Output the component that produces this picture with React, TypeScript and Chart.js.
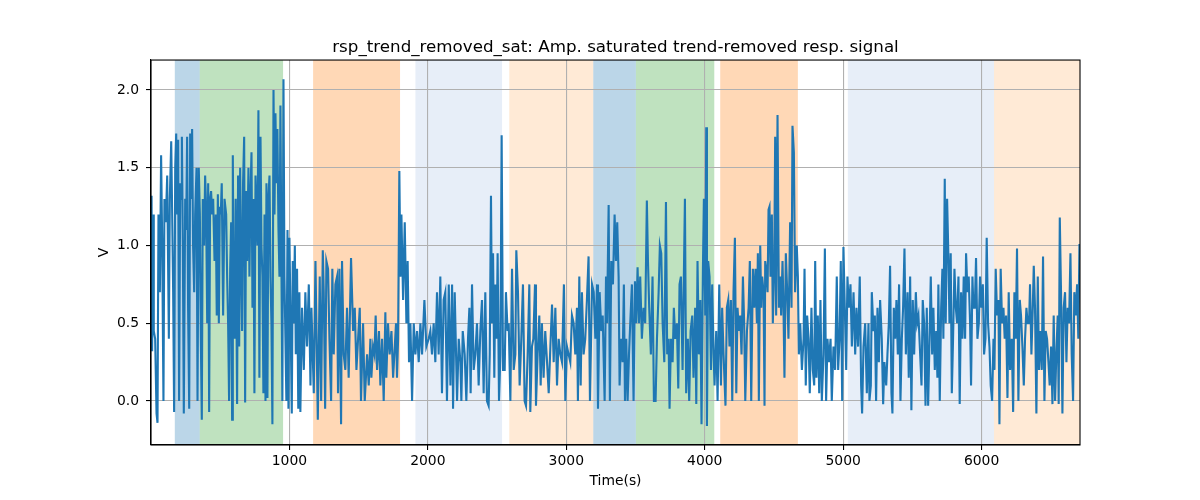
import { useEffect, useRef } from 'react';
import Chart from 'chart.js/auto';

// time (s), amplitude (V), in segments
const traceA: [number, number][] = [
  [0, 0.35], [4, 1.32], [8, 0.32], [16, 1.2], [20, 0.45], [30, 0.4], [40, -0.08], [47, -0.14], [54, 1.2], [64, 0.7],
  [73, 1.58], [81, 1.0], [90, 0.0], [97, 1.3], [107, 1.15], [117, 1.45], [129, 0.4], [136, 1.3], [146, 1.67], [153, 1.2],
  [160, 0.7], [167, -0.07], [175, 1.5], [182, 1.72], [189, 1.2], [196, 1.68], [203, 0.0], [211, 1.4], [218, 1.3], [223, 1.7],
  [230, 1.0], [237, -0.08], [247, 1.3], [254, 1.1], [261, 1.7], [268, 0.6], [276, -0.05], [283, 1.72], [290, 1.3], [297, 1.75],
  [304, 1.0], [312, 0.7], [319, 1.2], [329, 1.5], [336, 0.0], [345, 1.5], [353, 1.2], [360, 0.4], [367, -0.12], [374, 1.3],
  [384, 1.0], [391, 1.45], [398, 1.25], [406, 0.5], [413, 1.4], [420, -0.07], [427, 1.3], [434, 1.35], [442, 1.2], [449, 1.3],
  [459, 0.9], [468, 1.2], [475, 0.55], [483, 1.33], [490, 0.5], [497, 1.25], [504, 1.2], [511, 1.4], [521, 0.55], [531, 1.3],
  [543, 1.2], [550, 0.8], [557, 0.5], [564, 0.0], [572, 0.85], [579, 1.15], [586, -0.12], [591, 1.58], [598, 0.5], [605, 0.4],
  [612, 1.3], [622, -0.02], [629, 1.45], [637, 0.35], [644, 1.5], [651, 0.9], [658, 0.45], [665, 1.4], [673, 1.7], [680, -0.01],
  [687, 1.35], [694, 0.9], [704, 1.5], [711, 0.8], [718, 1.3], [726, 1.6], [733, 0.6], [740, 1.3], [747, 0.05], [755, 1.45],
  [762, 1.2], [769, 1.0], [776, 1.87], [783, 0.15], [791, 1.7], [798, 1.0], [805, 0.8], [812, 0.05], [820, 1.2], [827, 0.0],
  [834, 1.4], [841, 0.02], [848, 1.3], [856, 1.45], [863, 0.8], [870, 0.5], [877, -0.15], [885, 2.0], [892, 1.2], [899, 1.85],
  [906, 1.4], [913, 1.75], [921, 1.1], [928, 0.8], [935, 1.9], [942, 0.9], [949, 0.0], [957, 2.07], [964, 0.8], [971, 0.4],
  [978, 0.0], [986, 1.1], [993, -0.05], [1000, 1.05], [1010, 0.4], [1017, -0.08], [1024, 0.9], [1031, 0.5], [1039, 1.0], [1046, 0.3],
  [1055, 0.85], [1064, -0.05], [1072, 0.7], [1079, -0.07],
];

const traceB: [number, number][] = [
  [1091, 0.6], [1104, 0.2], [1115, 0.7], [1127, 0.35], [1140, 0.75], [1152, 0.1], [1159, 0.6], [1176, 0.05], [1188, 0.9], [1205, -0.12],
  [1219, 0.8], [1229, 0.0], [1241, 0.97], [1248, 0.7], [1258, -0.05], [1267, 0.9], [1279, 0.85], [1289, 0.4], [1301, 0.0], [1310, 0.85],
  [1320, 0.3], [1332, 0.75], [1344, 0.8], [1351, 0.05], [1361, 0.85], [1373, -0.15], [1380, 0.9], [1392, 0.3], [1404, 0.2], [1416, 0.6],
  [1428, 0.15], [1445, 0.92], [1460, 0.45], [1472, 0.6], [1484, 0.2], [1496, 0.4], [1508, 0.6], [1517, 0.0], [1532, 0.5], [1544, 0.0],
  [1561, 0.3], [1573, 0.1], [1585, 0.4], [1592, 0.15], [1604, 0.35], [1614, 0.3], [1623, 0.55], [1633, 0.2], [1647, 0.45], [1657, 0.1],
  [1669, 0.4], [1681, 0.0], [1693, 0.57], [1700, 0.15], [1712, 0.5], [1724, 0.3], [1737, 0.45], [1749, 0.15], [1761, 0.35], [1770, 0.5],
  [1777, 0.15], [1785, 0.4], [1794, 1.48], [1802, 0.8], [1809, 1.2], [1821, 0.65], [1833, 1.15], [1845, 0.5], [1854, 0.9], [1864, 0.25],
  [1874, 0.5], [1886, 0.0], [1898, 0.5], [1910, 0.3], [1922, 0.45], [1934, 0.25], [1946, 0.5], [1958, 0.3], [1975, 0.65], [1989, 0.35],
  [2006, 0.4], [2018, 0.45], [2030, 0.3], [2042, 0.5], [2054, 0.25], [2066, 0.7], [2078, 0.3], [2090, 0.8], [2102, 0.05], [2114, 0.65],
  [2126, 0.7], [2138, 0.0], [2151, 0.75], [2163, 0.1], [2175, 0.75], [2182, -0.05], [2194, 0.7],
];

const traceC: [number, number][] = [
  [2211, 0.0], [2223, 0.4], [2235, 0.25], [2242, 0.0], [2252, 0.45], [2266, 0.3], [2278, 0.0], [2290, 0.4], [2300, 0.6], [2309, 0.05],
  [2319, 0.75], [2331, 0.2], [2343, 0.3], [2355, 0.5], [2367, 0.1], [2379, 0.45], [2391, 0.65], [2403, 0.05], [2415, 0.7], [2427, 0.0],
  [2439, -0.03], [2447, 0.3], [2456, 1.32], [2463, 0.5], [2471, 0.95], [2480, 0.15], [2487, 0.75], [2497, 0.4], [2504, 0.95], [2514, 0.0],
  [2524, 0.3], [2533, 1.71], [2543, 0.2], [2555, 0.2], [2564, 0.7], [2576, 0.45], [2584, 0.5], [2596, 0.0], [2608, 0.85], [2620, 0.2],
  [2632, 0.3], [2639, 0.97], [2651, 0.7], [2663, 0.1], [2675, 0.4], [2687, 0.75], [2699, 0.0], [2709, -0.03], [2721, 0.3], [2733, 0.75],
  [2740, -0.07], [2752, 0.35], [2762, 0.4], [2774, 0.75], [2781, -0.03], [2793, 0.3], [2805, 0.55], [2815, 0.1], [2824, 0.5], [2836, 0.15],
  [2848, 0.45], [2861, 0.25], [2873, 0.05], [2885, 0.35], [2897, 0.62], [2909, 0.25], [2921, 0.6], [2933, 0.1], [2945, 0.4], [2957, 0.3],
  [2969, 0.25], [2983, 0.75], [2993, 0.0], [3005, 0.35], [3017, 0.3], [3029, 0.25], [3041, 0.55], [3053, 0.5], [3065, 0.3], [3077, 0.6],
  [3084, 0.0], [3094, 0.8], [3104, 0.1], [3113, 0.7], [3125, 0.3], [3137, 0.4], [3149, 0.65], [3161, 0.93], [3171, 0.0], [3186, 0.75],
  [3198, 0.7], [3210, 0.4], [3222, 0.75], [3229, -0.05], [3241, 0.7], [3253, 0.45], [3263, 0.55], [3277, 0.0], [3287, 0.8], [3294, 0.5],
  [3306, 1.26], [3315, 0.0],
];

const traceD: [number, number][] = [
  [3325, 0.9], [3337, 0.75], [3349, 1.2], [3359, 0.9], [3368, 1.15], [3378, 0.8], [3385, 0.1], [3395, 0.4], [3407, 0.25], [3416, 0.75],
  [3424, 0.0], [3433, 0.4], [3443, 0.0], [3453, 0.3], [3462, 0.5], [3474, 0.75], [3486, 0.0], [3496, 0.77], [3505, 0.5], [3515, 0.86],
  [3525, 0.5], [3534, 0.8], [3546, 0.4], [3558, 0.6], [3570, 0.5], [3582, 1.29], [3590, 0.9], [3599, 0.6], [3611, 0.3], [3623, 0.8],
  [3633, 0.0], [3645, 0.0], [3655, 0.4], [3667, 0.7], [3676, 1.0], [3686, 0.95], [3696, 0.5], [3708, 0.25], [3720, 1.28], [3729, 0.3],
  [3739, 0.4], [3746, -0.05], [3756, 0.4], [3768, 0.25], [3777, 0.6], [3787, 0.4], [3799, 0.5], [3809, 0.08], [3818, 0.75], [3828, 0.8],
  [3840, 0.2], [3857, 1.3], [3866, 0.05], [3878, 0.4], [3888, 0.0], [3898, 0.45], [3910, 0.55], [3919, 0.15], [3931, 0.6], [3939, -0.02],
  [3948, 0.9], [3958, 0.3], [3968, 0.65], [3977, -0.15], [3987, 0.85], [3994, 1.3], [4004, 0.55], [4011, 1.76], [4016, -0.16], [4025, 0.9],
  [4035, 0.8], [4045, 0.2], [4054, 0.75], [4064, 0.3], [4071, 0.1], [4083, 0.45], [4093, 0.0], [4105, 0.75], [4117, 0.1], [4126, 0.6],
  [4136, 0.3], [4150, -0.03], [4160, 0.6], [4170, 0.65], [4179, 0.35], [4189, 0.65], [4199, 0.0], [4208, 0.7], [4218, 1.05], [4228, 0.05],
  [4237, 0.6], [4247, 0.45], [4256, 0.55], [4266, 0.3], [4276, 0.8], [4285, 0.5], [4293, 0.0], [4305, 0.45], [4317, 0.6], [4326, 0.9],
  [4336, 0.0], [4348, 0.85], [4358, 0.6], [4367, 0.85], [4377, 0.5], [4384, 0.95], [4391, 0.0], [4401, 1.0], [4408, 0.6], [4415, 0.8],
  [4425, 0.7], [4432, -0.03],
];

const traceE: [number, number][] = [
  [4437, 0.9], [4444, 0.85], [4454, 0.7], [4461, 1.23], [4468, 1.25], [4475, 0.8], [4485, 1.2], [4492, 0.5], [4502, 0.85], [4509, 1.7],
  [4516, 0.55], [4526, 1.84], [4536, 0.6], [4545, 0.8], [4552, 0.55], [4562, 0.9], [4569, 0.6], [4576, 0.15], [4586, 0.95], [4596, 0.7],
  [4605, 0.4], [4617, 1.15], [4627, 0.6], [4634, 1.77], [4644, 1.6], [4653, 0.7], [4665, 1.0], [4673, 0.8], [4680, 0.3], [4690, 0.5],
  [4702, 0.2], [4714, 0.4], [4721, 0.85], [4730, 0.1], [4740, 0.55], [4750, 0.4], [4759, 0.05], [4771, 0.6], [4781, 0.2], [4791, 0.1],
  [4798, 0.9], [4807, 0.15], [4817, 0.55], [4827, 0.05], [4836, 0.65], [4846, 0.0], [4858, 0.3], [4868, 0.98], [4877, 0.0], [4887, 0.4],
  [4897, 0.25], [4909, 0.4], [4918, 0.0], [4930, 0.35], [4942, 0.2], [4954, 0.8], [4964, 0.2], [4974, 0.4], [4983, 0.9], [4993, 0.0],
  [5002, 0.99], [5012, 0.6], [5022, 0.2], [5031, 0.8], [5041, 0.6], [5053, 0.75], [5063, 0.35], [5075, 0.7], [5087, 0.3], [5096, 0.6],
  [5108, 0.35], [5120, 0.8], [5130, 0.1], [5137, -0.08], [5147, 0.35], [5159, 0.5], [5171, 0.05], [5183, 0.5], [5190, 0.0], [5200, 0.1],
  [5207, 0.7], [5219, 0.45], [5229, 0.55], [5238, 0.0], [5248, 0.6], [5258, 0.25], [5267, 0.65], [5279, 0.4], [5289, -0.02], [5298, 0.25],
  [5311, 0.1], [5320, 0.3], [5330, 0.5], [5339, 0.87], [5349, 0.05], [5356, -0.08], [5366, 0.6], [5376, 0.4], [5385, 0.65], [5395, 0.3],
  [5404, 0.75], [5414, 0.0], [5424, 0.4], [5433, 0.6], [5443, 0.98], [5453, 0.3], [5465, 0.7], [5474, 0.15], [5484, 0.8], [5493, -0.06],
  [5503, 0.65], [5513, 0.3], [5525, 0.7], [5534, 0.5], [5544, 0.55],
];

const traceF: [number, number][] = [
  [5566, 0.1], [5575, 0.65], [5585, 0.5], [5595, -0.03], [5604, 0.6], [5614, -0.03], [5623, 0.35], [5633, 0.8], [5643, 0.3], [5652, 0.6],
  [5662, 0.2], [5672, 0.45], [5681, 0.15], [5688, 0.75], [5698, 0.0], [5708, 0.6], [5717, 0.85], [5724, 0.4], [5734, 1.43], [5741, 0.5],
  [5751, 1.3], [5761, 0.9], [5768, 0.5], [5777, 0.95], [5785, 0.05], [5794, 0.4], [5804, 0.85], [5814, 0.6], [5823, 0.5], [5833, 0.8],
  [5842, -0.02], [5852, 0.7], [5862, 0.4], [5871, 0.8], [5881, 0.4], [5888, 0.95], [5898, 0.7], [5907, 0.8], [5917, 0.5], [5924, 0.1],
  [5934, 0.8], [5941, 0.6], [5951, 0.6], [5960, 0.92], [5970, 0.4], [5980, 0.5], [5989, 0.8], [5999, 0.6], [6009, 0.75], [6018, 0.3],
  [6028, 0.4], [6037, 1.05], [6047, 0.5], [6057, 0.35], [6066, 0.1], [6076, 0.0], [6086, 0.4], [6093, 0.2], [6102, 0.85], [6112, 0.55],
  [6122, 0.65], [6129, -0.15], [6138, 0.85], [6148, 0.5], [6158, 0.6], [6167, 0.4], [6177, 0.55], [6187, 0.02], [6196, 0.7], [6206, 0.2],
  [6218, 0.4], [6228, -0.07], [6237, 0.7], [6247, 0.4], [6256, 0.98], [6266, 0.0], [6276, 0.65], [6285, 0.55], [6295, 0.35], [6305, 0.1],
  [6314, 0.4], [6324, 0.6], [6333, 0.5], [6343, 0.5], [6350, 0.75], [6360, 0.3], [6370, 0.6], [6377, 0.87], [6386, 0.6], [6396, -0.08],
  [6406, 0.8], [6415, 0.2], [6425, 0.45], [6435, 0.2], [6444, 0.93], [6454, 0.0], [6463, 0.45], [6473, 0.4], [6483, 0.25], [6492, 0.1],
  [6502, 0.35], [6512, -0.02], [6521, 0.55], [6531, 0.0], [6540, 0.3], [6550, 0.55], [6557, -0.02], [6565, 1.18], [6574, 0.7], [6584, -0.08],
  [6593, 0.6], [6603, 0.7], [6613, 0.25], [6622, 0.6], [6632, 0.5], [6642, 0.95], [6651, 0.3], [6661, 0.0], [6670, 0.7], [6680, 0.55],
  [6690, 0.75], [6699, 0.4], [6707, 1.01],
];

// shaded intervals (s)
const spanStart = [172, 352, 1171, 1910, 2588, 3195, 3503, 4112, 5034, 6090];
const spanEnd = [352, 954, 1799, 2536, 3195, 3503, 4069, 4673, 6090, 6711];
const spanColor = [
  'rgba(31,119,180,0.3)', 'rgba(44,160,44,0.3)', 'rgba(255,127,14,0.3)', 'rgba(174,199,232,0.3)', 'rgba(255,187,120,0.3)',
  'rgba(31,119,180,0.3)', 'rgba(44,160,44,0.3)', 'rgba(255,127,14,0.3)', 'rgba(174,199,232,0.3)', 'rgba(255,187,120,0.3)',
];

const xTicks = [1000, 2000, 3000, 4000, 5000, 6000];
const yTicks = [0, 0.5, 1.0, 1.5, 2.0];
const X_MAX = 6711;
const Y_MIN = -0.283;
const Y_MAX = 2.193;

const FONT = 'DejaVu Sans';

const spansPlugin = {
  id: 'spans',
  beforeDraw(chart: any) {
    const { ctx, chartArea, scales } = chart;
    ctx.save();
    spanStart.forEach((s, i) => {
      const x0 = scales.x.getPixelForValue(s);
      const x1 = scales.x.getPixelForValue(spanEnd[i]);
      ctx.fillStyle = spanColor[i];
      ctx.fillRect(x0, chartArea.top, x1 - x0, chartArea.bottom - chartArea.top);
    });
    ctx.restore();
  },
  afterDraw(chart: any) {
    const { ctx, chartArea } = chart;
    ctx.save();
    ctx.strokeStyle = '#000';
    ctx.lineWidth = 1.1;
    ctx.strokeRect(chartArea.left, chartArea.top, chartArea.right - chartArea.left, chartArea.bottom - chartArea.top);
    ctx.restore();
  },
};

export default function App() {
  const canvas = useRef<HTMLCanvasElement>(null);

  useEffect(() => {
    const points = [...traceA, ...traceB, ...traceC, ...traceD, ...traceE, ...traceF].map(([x, y]) => ({ x, y }));

    const chart = new Chart(canvas.current as HTMLCanvasElement, {
      type: 'line',
      data: {
        datasets: [{
          data: points,
          borderColor: '#1f77b4',
          borderWidth: 2.1,
          pointRadius: 0,
          tension: 0,
          fill: false,
        }],
      },
      options: {
        animation: false,
        responsive: true,
        maintainAspectRatio: false,
        layout: { padding: { left: 0, right: 120, top: 0, bottom: 0 } },
        plugins: {
          legend: { display: false },
          tooltip: { enabled: false },
          title: {
            display: true,
            text: 'rsp_trend_removed_sat: Amp. saturated trend-removed resp. signal',
            color: '#000',
            fullSize: false,
            font: { family: FONT, size: 16.7, weight: 'normal' },
            padding: { top: 38, bottom: 2 },
          },
        },
        scales: {
          x: {
            type: 'linear',
            min: 0,
            max: X_MAX,
            afterBuildTicks: (s: any) => { s.ticks = xTicks.map(v => ({ value: v })); },
            afterFit: (s: any) => { s.height = 55; },
            grid: { color: '#b0b0b0', lineWidth: 1.1, tickColor: '#000', tickLength: 5 },
            border: { display: true, color: '#000', width: 1.1 },
            ticks: {
              color: '#000',
              font: { family: FONT, size: 13.9 },
              padding: 3,
              maxRotation: 0,
              callback: (v: any) => String(v),
            },
            title: {
              display: true,
              text: 'Time(s)',
              color: '#000',
              font: { family: FONT, size: 13.9 },
              padding: { top: 0, bottom: 10.5 },
            },
          },
          y: {
            type: 'linear',
            min: Y_MIN,
            max: Y_MAX,
            afterBuildTicks: (s: any) => { s.ticks = yTicks.map(v => ({ value: v })); },
            afterFit: (s: any) => { s.width = 151; },
            grid: { color: '#b0b0b0', lineWidth: 1.1, tickColor: '#000', tickLength: 5 },
            border: { display: true, color: '#000', width: 1.1 },
            ticks: {
              color: '#000',
              font: { family: FONT, size: 13.9 },
              padding: 7,
              callback: (v: any) => Number(v).toFixed(1),
            },
            title: {
              display: true,
              text: 'V',
              color: '#000',
              font: { family: FONT, size: 13.9 },
              padding: { top: 96, bottom: 0 },
            },
          },
        },
      },
      plugins: [spansPlugin],
    });

    return () => {
      chart.destroy();
    };
  }, []);

  return (
    <div style={{ position: 'absolute', left: 0, top: 0, width: 1200, height: 500, background: '#fff' }}>
      <canvas ref={canvas} role="img" aria-label="rsp_trend_removed_sat chart"></canvas>
    </div>
  );
}
